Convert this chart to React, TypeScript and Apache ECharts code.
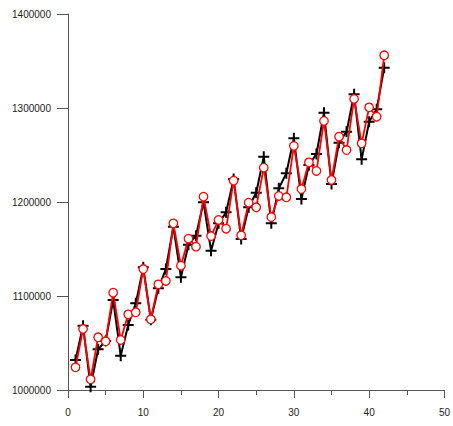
import React, { useEffect, useRef } from "react";
import * as echarts from "echarts";

// Observation index (1..42)
const xIndex: number[] = Array.from({ length: 42 }, (_, i) => i + 1);

// Observed series (black, "+" markers)
const observed: number[] = [
  1031900, 1068400, 1003500, 1043300, 1052100, 1095700, 1036500, 1069100,
  1092200, 1130500, 1074800, 1108200, 1128700, 1173700, 1119900, 1154600,
  1164100, 1199700, 1148200, 1177300, 1189000, 1224500, 1160600, 1194400,
  1209900, 1248200, 1177300, 1214600, 1230500, 1267800, 1203200, 1239400,
  1251100, 1295000, 1219100, 1263100, 1274800, 1314600, 1245400, 1285400,
  1298600, 1342900,
];

// Fitted series (red, circle markers)
const fitted: number[] = [
  1024100, 1064900, 1011400, 1056100, 1051800, 1103500, 1053200, 1080500,
  1082700, 1128700, 1075200, 1112400, 1116000, 1177300, 1132200, 1161000,
  1152500, 1205600, 1163800, 1180900, 1171600, 1222700, 1164600, 1199300,
  1194400, 1236500, 1184000, 1206400, 1205000, 1259600, 1213800, 1242200,
  1233000, 1286200, 1223400, 1269500, 1255300, 1309600, 1262400, 1300700,
  1290700, 1356100,
];

const xTicks = { min: 0, max: 50, interval: 10 };
const yTicks = { min: 1000000, max: 1400000, interval: 100000 };

const PLUS =
  "path://M4.5,0H6.5V4.5H11V6.5H6.5V11H4.5V6.5H0V4.5H4.5Z";

export default function App() {
  const ref = useRef<HTMLDivElement>(null);

  useEffect(() => {
    if (!ref.current) return;
    const chart = echarts.init(ref.current, undefined, { renderer: "svg" });
    const axisColor = "#555";
    const font = "'Liberation Sans', Arial, sans-serif";
    chart.setOption({
      animation: false,
      backgroundColor: "#fff",
      grid: { left: 68, right: 7, top: 14, bottom: 36, containLabel: false },
      xAxis: {
        type: "value",
        min: xTicks.min,
        max: xTicks.max,
        interval: xTicks.interval,
        splitLine: { show: false },
        axisLine: { show: true, lineStyle: { color: axisColor, width: 1 } },
        axisTick: { show: true, length: 8, lineStyle: { color: axisColor } },
        minorTick: { show: true, splitNumber: 2, length: 5, lineStyle: { color: axisColor } },
        axisLabel: { color: "#222", fontSize: 10, fontFamily: font, margin: 17 },
      },
      yAxis: {
        type: "value",
        min: yTicks.min,
        max: yTicks.max,
        interval: yTicks.interval,
        splitLine: { show: false },
        axisLine: { show: true, lineStyle: { color: axisColor, width: 1 } },
        axisTick: { show: true, length: 11, lineStyle: { color: axisColor } },
        axisLabel: {
          color: "#222",
          fontSize: 10,
          fontFamily: font,
          margin: 17,
          formatter: (v: number) => String(v),
        },
      },
      series: [
        {
          type: "line",
          data: xIndex.map((x, i) => [x, observed[i]]),
          symbol: PLUS,
          symbolSize: 11,
          lineStyle: { color: "#000", width: 2 },
          itemStyle: { color: "#000" },
          z: 2,
        },
        {
          type: "line",
          data: xIndex.map((x, i) => [x, fitted[i]]),
          symbol: "circle",
          symbolSize: 8.5,
          lineStyle: { color: "#f00", width: 1.8 },
          itemStyle: { color: "#fff", borderColor: "#f00", borderWidth: 1.3 },
          z: 3,
        },
      ],
    });
    return () => chart.dispose();
  }, []);

  return (
    <div
      ref={ref}
      style={{ position: "absolute", left: 0, top: 0, width: 453, height: 426 }}
    />
  );
}
